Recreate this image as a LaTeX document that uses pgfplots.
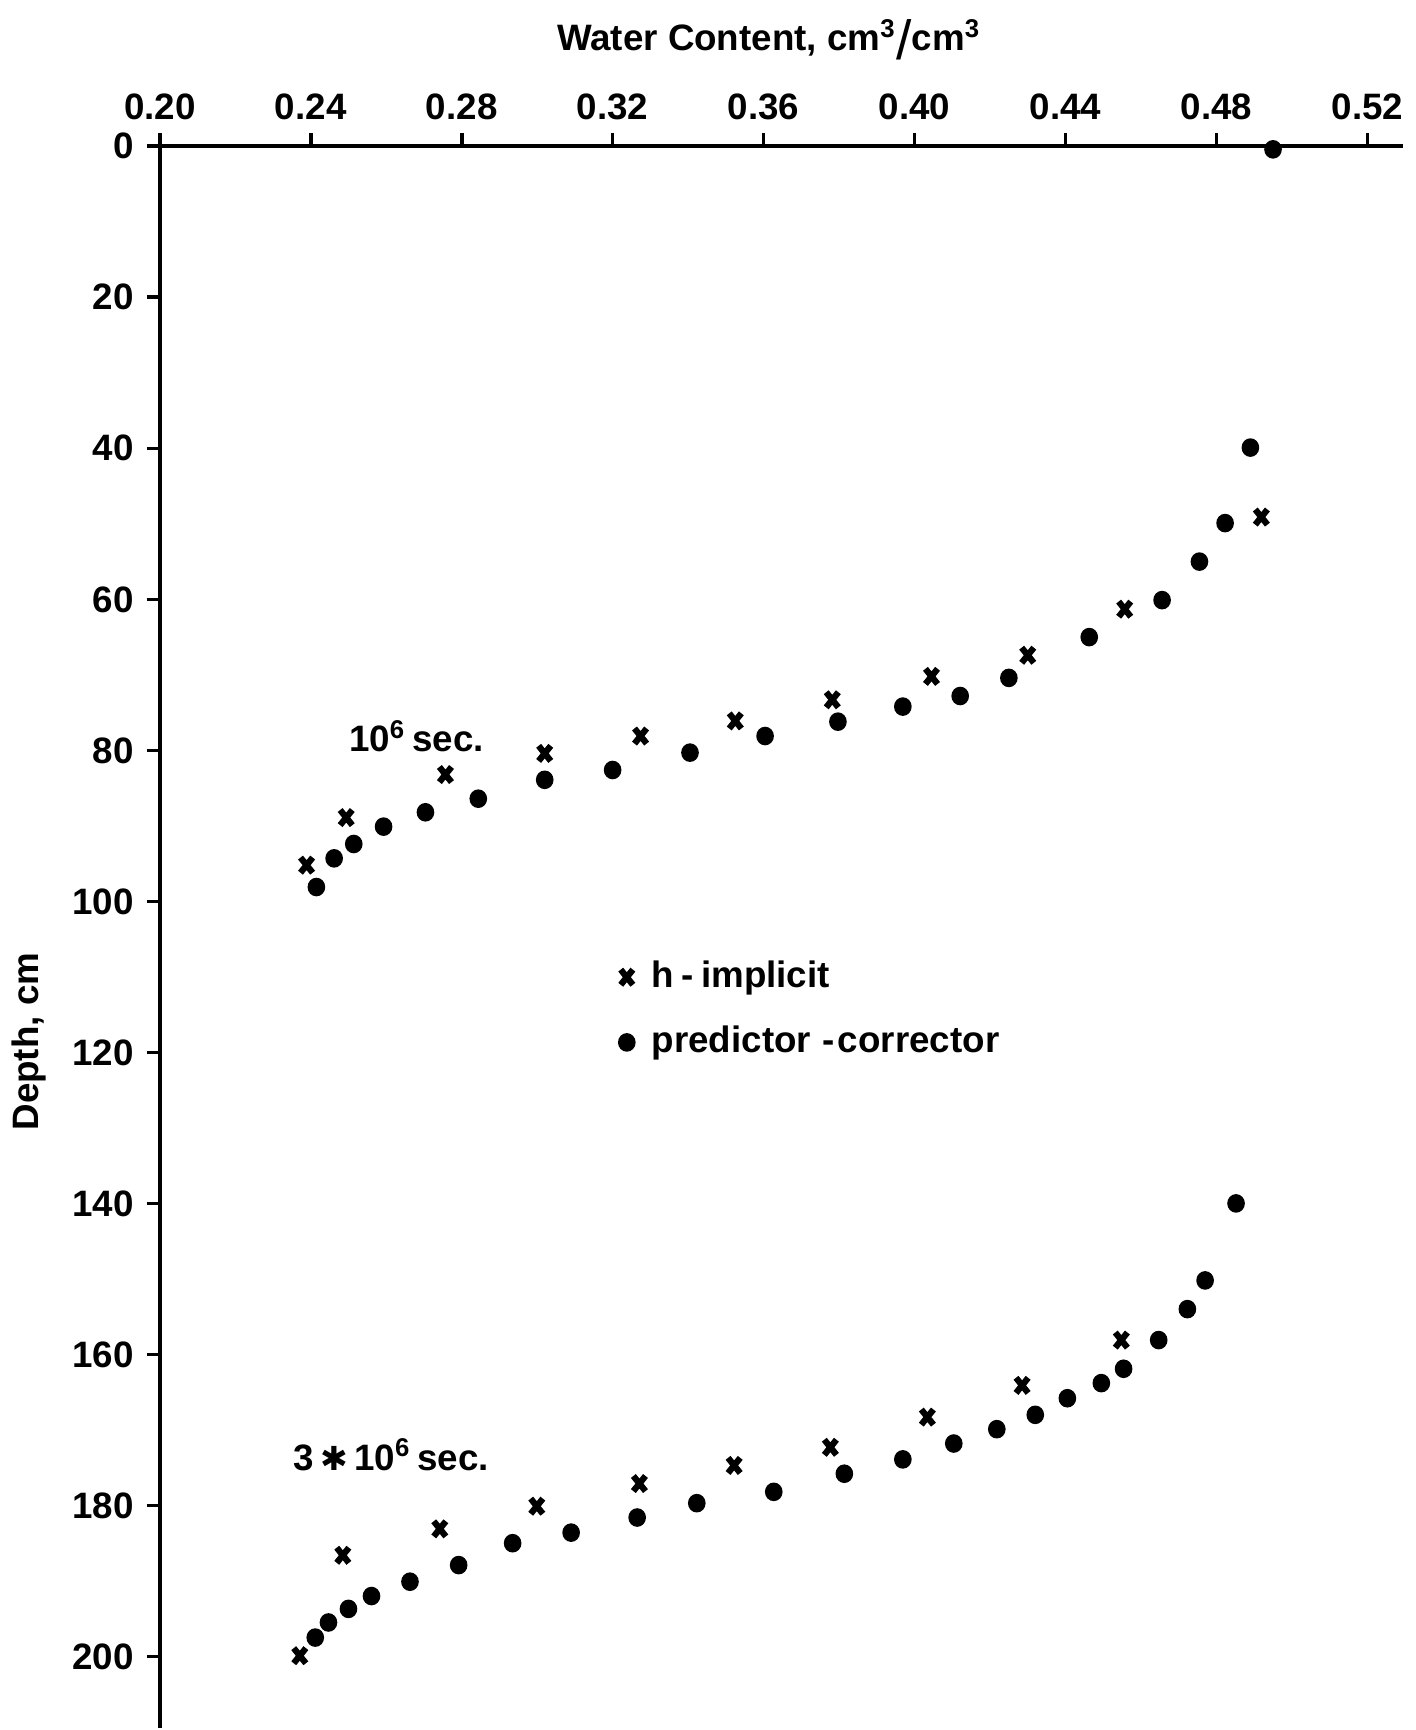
\documentclass[border=0pt]{standalone}
\usepackage{fontspec}
\setmainfont{Liberation Sans}
\newfontfamily\dejavu{DejaVu Sans}
\usepackage{pgfplots}
\pgfplotsset{compat=1.18}

\begin{document}
\begin{tikzpicture}
\begin{axis}[
  scale only axis, width=338.4pt, height=430.5pt,
  xmin=0.20, xmax=0.5295, ymin=0, ymax=209.5,
  y dir=reverse, clip=false,
  axis x line=top, axis y line=left,
  axis line style={-, line width=1pt},
  xtick={0.20,0.24,0.28,0.32,0.36,0.40,0.44,0.48,0.52},
  ytick={0,20,...,200},
  tick align=outside, major tick length=3.6pt,
  tick style={line width=1pt, black},
  xticklabel style={/pgf/number format/.cd, fixed, fixed zerofill, precision=2},
  /pgf/number format/assume math mode=true,
  tick label style={font=\bfseries},
  xlabel={Water Content, cm\textsuperscript{3}\raisebox{-2.5pt}{\fontsize{15}{15}\selectfont\mdseries/}cm\textsuperscript{3}},
  x label style={at={(rel axis cs:0.49,1)}, anchor=base, yshift=26pt, inner ysep=5.3pt, font=\bfseries},
  ylabel={Depth, cm},
  y label style={at={([xshift=-27.3pt]rel axis cs:0,0.434)}, anchor=south, font=\bfseries},
  legend style={at={(rel axis cs:0.3685,0.49)}, anchor=north west, draw=none, fill=none,
    font=\bfseries, row sep=5pt, inner sep=0pt,
    /tikz/every odd column/.append style={column sep=2.6pt}},
  legend cell align=left,
  legend image code/.code={\draw[mark repeat=2,mark phase=2,#1] plot coordinates {(0cm,0cm) (0.15cm,0cm) (0.3cm,0cm)};},
]
% h-implicit (10^6 s, then 3x10^6 s)
\addplot[only marks, mark=x, mark size=2.6pt, mark options={line width=1.7pt, xscale=0.9, yscale=1.12}] coordinates {
  (0.4919,49.1) (0.4557,61.3) (0.4300,67.4) (0.4045,70.2) (0.3782,73.3)
  (0.3525,76.1) (0.3274,78.1) (0.3020,80.4) (0.2757,83.2) (0.2494,88.9) (0.2389,95.2)
  (0.4548,158.1) (0.4285,164.1) (0.4034,168.3) (0.3777,172.3) (0.3522,174.7)
  (0.3271,177.1) (0.2999,180.1) (0.2742,183.1) (0.2485,186.6) (0.2371,199.9)
};
\addlegendentry{h\kern2pt-\kern2pt implicit}
% predictor-corrector
\addplot[only marks, mark=*, mark size=2.2pt, mark options={yscale=1.06}] coordinates {
  (0.4950,0.4) (0.4890,39.9) (0.4823,49.9) (0.4755,55.0) (0.4656,60.1) (0.4463,65.0)
  (0.4250,70.4) (0.4121,72.8) (0.3969,74.2) (0.3797,76.2) (0.3604,78.1) (0.3405,80.3)
  (0.3200,82.6) (0.3020,83.9) (0.2844,86.4) (0.2704,88.2) (0.2593,90.1) (0.2514,92.4)
  (0.2462,94.3) (0.2415,98.1)
  (0.4852,140.0) (0.4770,150.2) (0.4723,154.0) (0.4647,158.1) (0.4554,161.9) (0.4495,163.8)
  (0.4405,165.8) (0.4320,168.0) (0.4218,169.9) (0.4104,171.8) (0.3969,173.9) (0.3814,175.8)
  (0.3627,178.2) (0.3423,179.7) (0.3265,181.6) (0.3090,183.6) (0.2935,185.0) (0.2792,187.9)
  (0.2663,190.1) (0.2561,192.0) (0.2500,193.7) (0.2447,195.5) (0.2412,197.5)
};
\addlegendentry{predictor\kern3pt-\kern1pt corrector}
\node[font=\bfseries] at (axis cs:0.268,78.1) {10\textsuperscript{6}\,sec.};
\node[font=\bfseries] at (axis cs:0.2614,173.3) {3\,{\dejavu\small ✱}\,10\textsuperscript{6}\,sec.};
\end{axis}
\end{tikzpicture}
\end{document}
